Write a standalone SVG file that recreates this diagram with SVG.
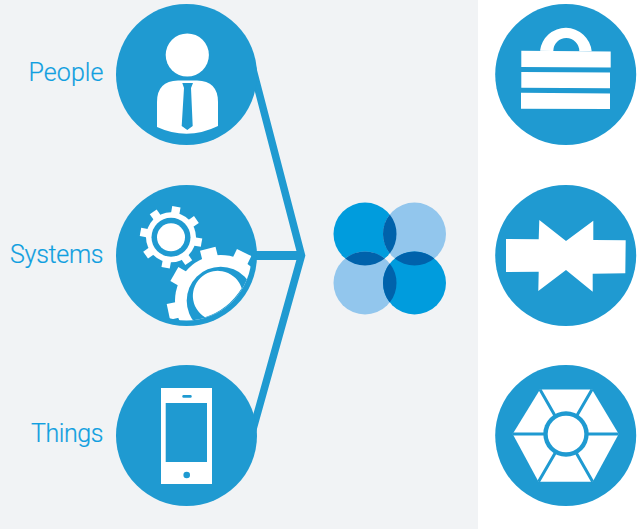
<svg xmlns="http://www.w3.org/2000/svg" width="641" height="529" viewBox="0 0 641 529">
<style>
.c{fill:#1f9ad1}
.w{fill:#fff}
.b{fill:#1f9ad1}
.l{font-family:"Roboto","Liberation Sans",sans-serif;font-weight:300;font-size:25px;fill:#109fe0;stroke:#109fe0;stroke-width:.2px}
.d{fill:#009cdd}.p{fill:#92c6ed}.o{fill:#0062ab}
</style>
<defs>
<clipPath id="inner"><circle cx="186.5" cy="255.5" r="65"/></clipPath>
<rect id="t1" x="-4.200" y="-31" width="8.400" height="8"/>
<rect id="t2" x="-8" y="-53.5" width="16" height="10"/>
</defs>
<rect x="0" y="0" width="478" height="529" fill="#f1f3f5"/>
<rect x="478" y="0" width="163" height="529" fill="#fff"/>
<g id="connectors"><path d="M250 58L301.500 255.500L250 440" fill="none" stroke="#1f9ad1" stroke-width="7.500" stroke-miterlimit="10"/><path d="M250 255.500H303" fill="none" stroke="#1f9ad1" stroke-width="9"/></g>
<g id="people"><circle class="c" cx="186.5" cy="74.5" r="70.5"/>
<circle class="w" cx="187.3" cy="55" r="21.6"/>
<path class="w" d="M157 127V102Q157 81 178 80.5H197Q218 81 218 102V126Q187.5 141 157 127Z"/>
<path class="b" d="M182.3 83H193L191 88L192.7 126L187.3 130L181.7 126L184 88Z"/>
<text class="l" x="28.500" y="81" textLength="75" lengthAdjust="spacing">People</text></g>
<g id="systems"><circle class="c" cx="186.500" cy="255.5" r="70.5"/>
<g transform="translate(171 237.3)">
<circle class="w" r="25"/><circle class="b" r="19.5"/><circle class="w" r="14"/>
<g class="w"><use href="#t1" transform="rotate(10)"/><use href="#t1" transform="rotate(55)"/><use href="#t1" transform="rotate(100)"/><use href="#t1" transform="rotate(145)"/><use href="#t1" transform="rotate(190)"/><use href="#t1" transform="rotate(235)"/><use href="#t1" transform="rotate(280)"/><use href="#t1" transform="rotate(325)"/></g>
</g>
<g clip-path="url(#inner)"><g transform="translate(220.7 300.7)">
<circle class="w" r="45.700"/>
<g class="w"><use href="#t2" transform="rotate(26)"/><use href="#t2" transform="rotate(-14)"/><use href="#t2" transform="rotate(-60)"/><use href="#t2" transform="rotate(-102)"/><use href="#t2" transform="rotate(-144)"/><use href="#t2" transform="rotate(68)"/></g>
<circle class="b" r="34"/></g></g>
<path class="w" d="M241.7 288.3A25 25 0 1 0 205 317.3Q228 310 241.7 288.3Z"/>
<text class="l" x="10" y="263" textLength="93.500" lengthAdjust="spacing">Systems</text></g>
<g id="things"><circle class="c" cx="186.500" cy="435.500" r="70.5"/>
<path class="w" fill-rule="evenodd" d="M161 388H212V484H161ZM165.700 403V462H207V403Z"/>
<rect class="b" x="182.300" y="395" width="9.400" height="2.800" rx="1.200"/>
<circle class="b" cx="186.700" cy="475" r="3.300"/>
<text class="l" x="31" y="442" textLength="72.500" lengthAdjust="spacing">Things</text></g>
<g id="venn">
<circle class="d" cx="365" cy="234" r="31.500"/><circle class="p" cx="414.500" cy="234" r="31.500"/>
<circle class="p" cx="365" cy="283" r="31.500"/><circle class="d" cx="414.500" cy="283" r="31.500"/>
<path class="o" d="M389.750 214.500A31.500 31.500 0 0 1 389.750 253.500A31.500 31.500 0 0 1 389.750 214.500Z"/>
<path class="o" d="M389.750 263.500A31.500 31.500 0 0 1 389.750 302.500A31.500 31.500 0 0 1 389.750 263.500Z"/>
<path class="o" d="M345.200 258.500A31.500 31.500 0 0 1 384.800 258.500A31.500 31.500 0 0 1 345.200 258.500Z"/>
<path class="o" d="M394.700 258.500A31.500 31.500 0 0 1 434.300 258.500A31.500 31.500 0 0 1 394.700 258.500Z"/>
</g>
<g id="lock"><circle class="c" cx="565.700" cy="74.500" r="70.500"/>
<path class="w" fill-rule="evenodd" d="M540 50.800A26 26 0 0 1 591.700 51.300L540 50.800ZM553.300 51A13 13 0 0 1 579.300 51.200Z"/>
<path class="w" d="M521.300 50.700L610.700 51.600V67.500L521.300 67.100ZM521.300 72L610 72.400V88.300L521.300 87.800ZM521 92.700L610 93.600V109L521 108.800Z"/>
</g>
<g id="bowtie"><circle class="c" cx="565.700" cy="255.500" r="70.500"/>
<path class="w" d="M506 239L538.700 239.300L539.300 220L566 241L593.300 220.700L593.300 240L625.700 240.300L625.300 273.300L592.700 273.700L592.700 291.700L566 270L538.300 291L538.700 271.700L506 272Z"/>
</g>
<g id="hex"><circle class="c" cx="565.700" cy="435.500" r="70.500"/>
<path class="w" d="M512.700 434L540 389.500H592L618.700 434L592.700 481.700H538.500Z"/>
<path d="M512.700 434H618.700M540 389.500L592.700 481.700M592 389.500L538.500 481.700" stroke="#1f9ad1" stroke-width="3" fill="none"/>
<circle class="b" cx="566" cy="434" r="22.700"/><circle class="w" cx="566" cy="434" r="18.300"/>
</g>
</svg>
